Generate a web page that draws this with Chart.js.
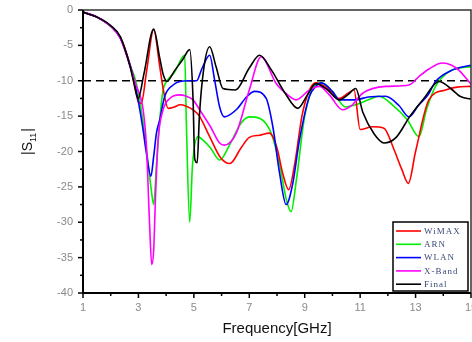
<!DOCTYPE html>
<html>
<head>
<meta charset="utf-8">
<script src="https://cdn.jsdelivr.net/npm/chart.js@4.4.0/dist/chart.umd.min.js"></script>
<style>
  html, body { margin: 0; padding: 0; background: #fff; }
  #wrap { width: 472px; height: 342px; position: relative; }
</style>
</head>
<body>
<div id="wrap"><canvas id="s11"></canvas></div>
<script>
// |S11| vs frequency for the five antenna stages

// Frequency (GHz) and S11 (dB) per curve
var wimaxF = [1, 1.5, 2, 2.35, 2.7, 2.85, 3.0, 3.1, 3.3, 3.55, 3.77, 3.9, 4.07, 4.3, 4.5, 4.73, 5.0, 5.2, 5.57, 5.95, 6.3, 6.7, 7.0, 7.37, 7.73, 8.0, 8.2, 8.42, 8.65, 8.9, 9.15, 9.4, 9.8, 10.24, 10.55, 10.78, 11.0, 11.44, 11.86, 12.2, 12.5, 12.74, 13.0, 13.48, 14.08, 14.5, 15];
var wimaxS = [-0.3, -1.0, -2.3, -3.9, -7.8, -10.5, -13.0, -13.2, -8.5, -2.8, -8.0, -11.3, -13.9, -13.7, -13.4, -13.6, -14.2, -15.0, -17.9, -20.8, -21.7, -19.5, -18.0, -17.7, -17.4, -19.5, -23.0, -25.4, -21.5, -15.0, -11.5, -10.3, -11.0, -12.5, -11.8, -11.3, -16.9, -16.5, -16.7, -19.5, -22.5, -24.5, -20.0, -12.7, -11.3, -10.9, -10.8];

var arnF = [1, 1.5, 2, 2.35, 2.7, 2.9, 3.1, 3.3, 3.45, 3.55, 3.65, 3.77, 3.89, 4.0, 4.3, 4.67, 4.73, 4.85, 4.95, 5.15, 5.3, 5.6, 5.93, 6.3, 6.7, 7.0, 7.37, 7.8, 8.1, 8.35, 8.51, 8.7, 9.0, 9.4, 9.6, 10.0, 10.48, 10.84, 11.3, 11.68, 12.16, 12.7, 13.12, 13.4, 13.72, 14.2, 14.6, 15];
var arnS = [-0.3, -1.0, -2.3, -3.9, -7.8, -10.0, -14.0, -20.0, -25.0, -27.5, -22.0, -15.5, -11.3, -10.2, -8.8, -6.4, -16.0, -30.0, -22.0, -17.9, -18.3, -19.5, -21.2, -19.0, -16.0, -15.1, -15.3, -17.5, -22.0, -27.0, -28.5, -24.0, -15.0, -10.5, -10.3, -11.5, -13.7, -13.4, -12.7, -12.2, -13.4, -15.5, -17.9, -14.0, -10.8, -8.7, -8.2, -8.0];

var wlanF = [1, 1.5, 2, 2.35, 2.7, 2.82, 3.0, 3.15, 3.29, 3.45, 3.55, 3.65, 3.77, 3.95, 4.25, 4.5, 4.8, 5.1, 5.3, 5.57, 5.75, 5.93, 6.1, 6.53, 6.9, 7.19, 7.61, 7.85, 8.09, 8.33, 8.57, 8.81, 9.17, 9.4, 9.6, 10.0, 10.24, 10.8, 11.3, 11.92, 12.4, 12.76, 13.1, 13.45, 13.72, 14.32, 15];
var wlanS = [-0.3, -1.0, -2.3, -4.0, -7.8, -9.5, -13.0, -16.5, -20.3, -23.5, -20.7, -17.4, -15.5, -12.2, -10.6, -10.1, -10.0, -10.0, -8.2, -6.4, -9.9, -13.7, -15.1, -14.1, -12.3, -11.5, -12.5, -16.5, -23.0, -27.5, -24.5, -18.4, -12.2, -10.8, -10.3, -11.5, -12.7, -12.7, -12.3, -12.2, -13.5, -15.1, -13.5, -12.0, -10.1, -8.5, -7.8];

var xbandF = [1, 1.5, 2, 2.35, 2.7, 2.9, 3.17, 3.29, 3.4, 3.48, 3.55, 3.62, 3.71, 3.89, 4.13, 4.49, 4.73, 4.97, 5.21, 5.6, 5.93, 6.1, 6.53, 7.0, 7.43, 7.97, 8.45, 8.69, 9.17, 9.53, 9.89, 10.36, 10.72, 11.08, 11.92, 12.76, 13.12, 13.5, 13.96, 14.3, 14.56, 15];
var xbandS = [-0.3, -1.0, -2.3, -4.0, -8.0, -10.5, -14.1, -19.3, -30.0, -36.0, -34.0, -26.0, -18.4, -14.1, -12.5, -12.0, -12.2, -12.7, -14.1, -16.5, -18.8, -19.1, -17.4, -11.3, -6.6, -10.4, -12.2, -12.7, -11.3, -10.8, -12.0, -14.1, -13.4, -11.8, -10.8, -10.6, -9.4, -8.3, -7.5, -7.8, -8.5, -10.5];

var finalF = [1, 1.5, 2, 2.35, 2.7, 2.82, 2.99, 3.2, 3.55, 3.77, 3.9, 4.03, 4.3, 4.6, 4.85, 4.97, 5.03, 5.12, 5.2, 5.35, 5.57, 5.8, 6.05, 6.5, 7.0, 7.37, 7.8, 8.3, 8.75, 9.1, 9.4, 9.8, 10.24, 10.55, 10.84, 11.1, 11.5, 11.86, 12.3, 12.8, 13.3, 13.84, 14.3, 14.6, 15];
var finalS = [-0.3, -1.0, -2.2, -3.8, -8.0, -10.0, -12.5, -9.0, -2.7, -6.8, -9.2, -10.1, -8.6, -7.0, -5.6, -12.5, -21.0, -21.6, -15.0, -8.5, -5.2, -8.0, -11.1, -11.3, -8.2, -6.4, -8.5, -11.8, -13.9, -12.0, -10.4, -11.2, -12.7, -12.0, -11.1, -14.5, -17.5, -18.8, -18.0, -15.0, -12.5, -10.1, -11.2, -12.2, -12.6];

// -10 dB reference line
var refF = [1, 15];
var refS = [-10, -10];

var xTicks = [1, 3, 5, 7, 9, 11, 13, 15];
var yTicks = [0, -5, -10, -15, -20, -25, -30, -35, -40];

// Legend order as in the picture
var legendNames  = ['WiMAX', 'ARN', 'WLAN', 'X-Band', 'Final'];
var legendColors = ['#ff0000', '#00ee00', '#0000ff', '#ff00ff', '#000000'];

function toPoints(fs, ss) {
  return fs.map(function(f, i) { return { x: f, y: ss[i] }; });
}

function curve(label, fs, ss, color) {
  return {
    label: label,
    data: toPoints(fs, ss),
    borderColor: color,
    borderWidth: 1.6,
    pointRadius: 0,
    fill: false,
    cubicInterpolationMode: 'monotone',
  };
}

// Frame, minor ticks, axis title with subscript and the boxed legend
var decorPlugin = {
  id: 'decor',
  afterDraw: function(chart) {
    var ctx = chart.ctx;
    var a = chart.chartArea;
    var xs = chart.scales.x, ys = chart.scales.y;
    ctx.save();

    // ticks (outward)
    ctx.strokeStyle = '#000';
    ctx.lineWidth = 1.5;
    for (var f = 1; f <= 15; f++) {
      var px = xs.getPixelForValue(f);
      var len = (f % 2 === 1) ? 5 : 3;
      ctx.beginPath(); ctx.moveTo(px, a.bottom); ctx.lineTo(px, a.bottom + len); ctx.stroke();
    }
    for (var v = 0; v >= -40; v -= 2.5) {
      var py = ys.getPixelForValue(v);
      var l2 = (v % 5 === 0) ? 5 : 3;
      ctx.beginPath(); ctx.moveTo(a.left, py); ctx.lineTo(a.left - l2, py); ctx.stroke();
    }

    // frame
    ctx.strokeStyle = '#333';
    ctx.lineWidth = 1.5;
    ctx.beginPath();
    ctx.moveTo(a.left, a.top); ctx.lineTo(a.right, a.top); ctx.lineTo(a.right, a.bottom);
    ctx.stroke();
    ctx.strokeStyle = '#000';
    ctx.lineWidth = 2;
    ctx.beginPath();
    ctx.moveTo(a.left, a.top); ctx.lineTo(a.left, a.bottom); ctx.lineTo(a.right, a.bottom);
    ctx.stroke();

    // y title |S11|
    ctx.translate(27, 142);
    ctx.rotate(-Math.PI / 2);
    ctx.fillStyle = '#111';
    ctx.textBaseline = 'alphabetic';
    ctx.font = '14px "Liberation Sans", Arial, sans-serif';
    var w1 = ctx.measureText('|S').width;
    ctx.font = '9px "Liberation Sans", Arial, sans-serif';
    var w2 = ctx.measureText('11').width;
    ctx.font = '14px "Liberation Sans", Arial, sans-serif';
    var w3 = ctx.measureText('|').width;
    var x0 = -(w1 + w2 + w3) / 2;
    ctx.fillText('|S', x0, 5);
    ctx.font = '9px "Liberation Sans", Arial, sans-serif';
    ctx.fillText('11', x0 + w1, 9);
    ctx.font = '14px "Liberation Sans", Arial, sans-serif';
    ctx.fillText('|', x0 + w1 + w2 + 1, 5);
    ctx.setTransform(1, 0, 0, 1, 0, 0);

    // legend box
    var bx = 393, by = 222, bw = 75, bh = 69;
    ctx.fillStyle = '#fff';
    ctx.fillRect(bx, by, bw, bh);
    ctx.strokeStyle = '#000';
    ctx.lineWidth = 1.5;
    ctx.strokeRect(bx, by, bw, bh);
    ctx.font = '9px "Liberation Serif", "Times New Roman", serif';
    ctx.textBaseline = 'middle';
    ctx.textAlign = 'left';
    if ('letterSpacing' in ctx) { ctx.letterSpacing = '1px'; }
    legendNames.forEach(function(name, i) {
      var yy = by + 9 + i * 13.3;
      ctx.strokeStyle = legendColors[i];
      ctx.lineWidth = 1.6;
      ctx.beginPath(); ctx.moveTo(bx + 3, yy); ctx.lineTo(bx + 28, yy); ctx.stroke();
      ctx.fillStyle = '#3a4a78';
      ctx.fillText(name, bx + 31, yy + 0.5);
    });
    ctx.restore();
  },
};

var chart = new Chart(document.getElementById('s11'), {
  type: 'line',
  data: {
    datasets: [
      curve('Final',  finalF, finalS, '#000000'),
      curve('X-Band', xbandF, xbandS, '#ff00ff'),
      curve('WLAN',   wlanF,  wlanS,  '#0000ff'),
      curve('WiMAX',  wimaxF, wimaxS, '#ff0000'),
      curve('ARN',    arnF,   arnS,   '#00ee00'),
      {
        label: '-10 dB',
        data: toPoints(refF, refS),
        borderColor: '#000',
        borderWidth: 1.5,
        borderDash: [8, 5],
        pointRadius: 0,
      },
    ],
  },
  options: {
    responsive: true,
    maintainAspectRatio: false,
    animation: false,
    layout: { padding: { top: 10, right: 1, left: 0, bottom: 0 } },
    plugins: {
      legend: { display: false },
      tooltip: { enabled: false },
    },
    scales: {
      x: {
        type: 'linear',
        min: 1, max: 15,
        grid: { display: false, drawTicks: false },
        border: { display: false },
        afterBuildTicks: function(s) { s.ticks = xTicks.map(function(v) { return { value: v }; }); },
        ticks: {
          padding: 8,
          color: '#8a8a8a',
          font: { size: 11, family: '"Liberation Sans", Arial, sans-serif' },
          maxRotation: 0,
        },
        title: {
          display: true,
          text: 'Frequency[GHz]',
          color: '#111',
          font: { size: 15, family: '"Liberation Sans", Arial, sans-serif' },
          padding: { top: 8 },
        },
        afterFit: function(s) { s.height = 49; s.paddingLeft = 0; s.paddingRight = 0; },
      },
      y: {
        min: -40, max: 0,
        grid: { display: false, drawTicks: false },
        border: { display: false },
        afterBuildTicks: function(s) { s.ticks = yTicks.map(function(v) { return { value: v }; }); },
        ticks: {
          padding: 10,
          color: '#8a8a8a',
          font: { size: 11, family: '"Liberation Sans", Arial, sans-serif' },
        },
        afterFit: function(s) { s.width = 83; s.paddingTop = 0; s.paddingBottom = 0; },
      },
    },
  },
  plugins: [decorPlugin],
});
</script>
</body>
</html>
